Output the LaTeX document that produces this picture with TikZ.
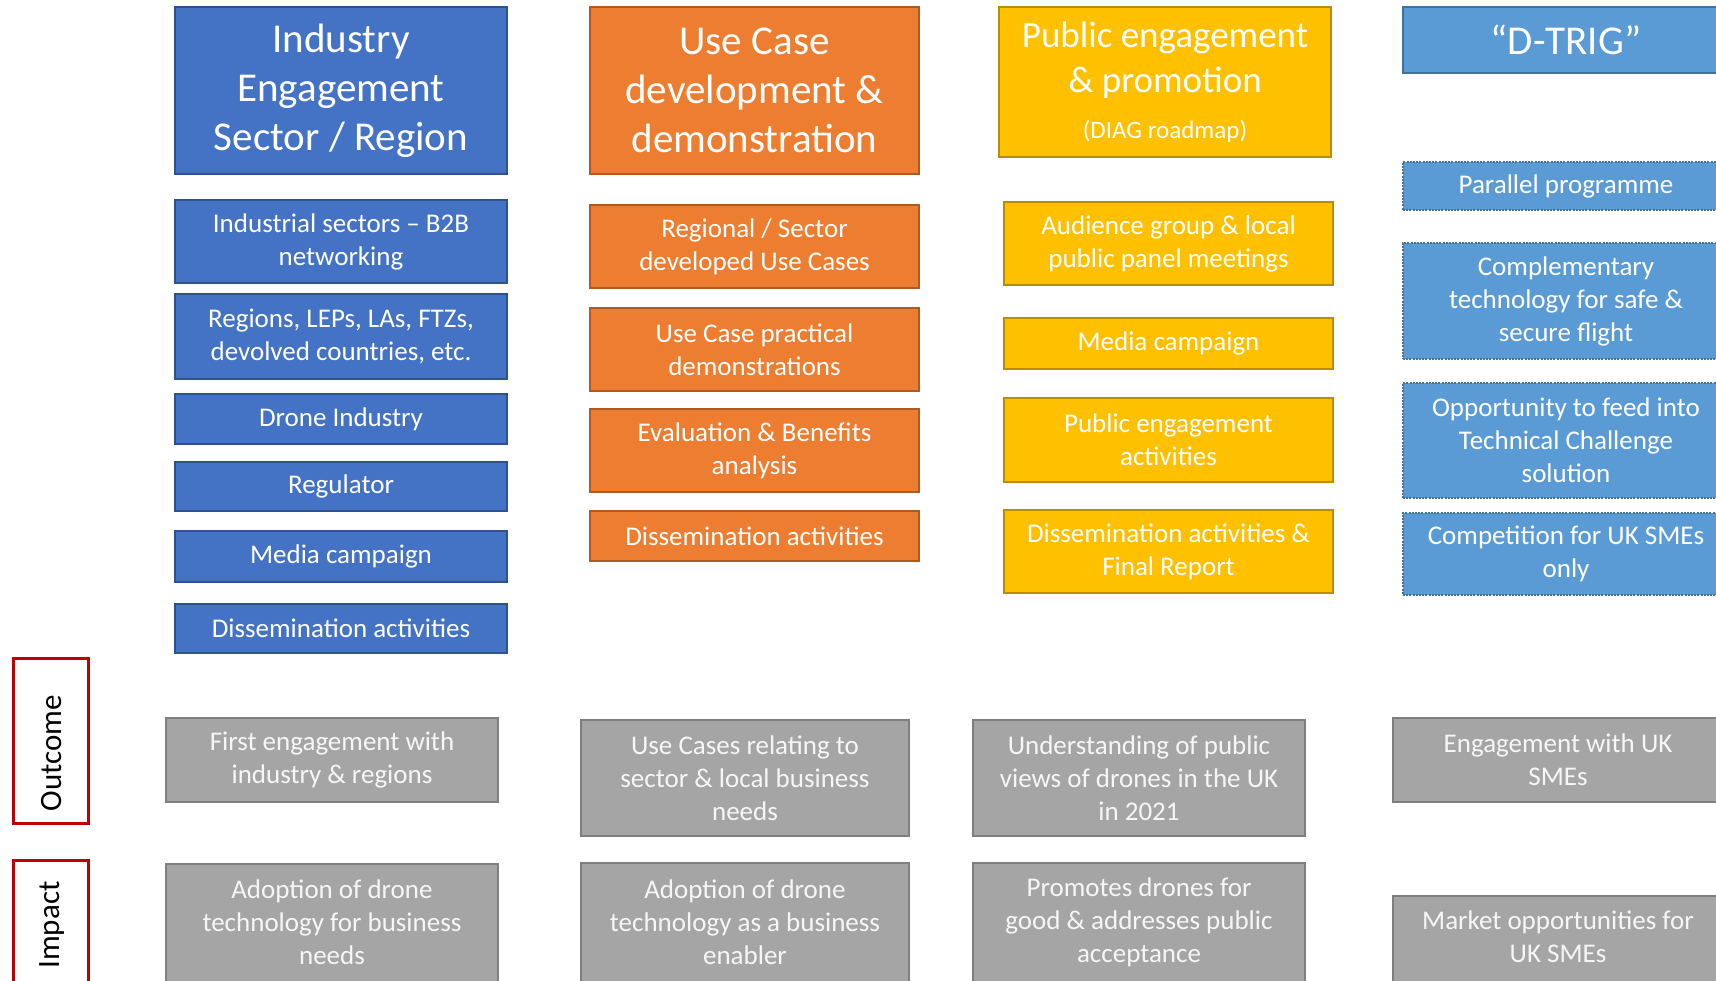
\documentclass[tikz,border=0pt]{standalone}
\usepackage{fontspec}
\setmainfont{Carlito}
\definecolor{cblue}{HTML}{4472C4}
\definecolor{cblueD}{HTML}{2F528F}
\definecolor{corange}{HTML}{ED7D31}
\definecolor{corangeD}{HTML}{AE5A21}
\definecolor{cgold}{HTML}{FFC000}
\definecolor{cgoldD}{HTML}{BC8C00}
\definecolor{clblue}{HTML}{5B9BD5}
\definecolor{clblueD}{HTML}{41719C}
\definecolor{cgray}{HTML}{A5A5A5}
\definecolor{cgrayD}{HTML}{7F7F7F}
\definecolor{cred}{HTML}{C00000}
\tikzset{
  box/.style={draw, line width=1.3pt, inner sep=0pt, align=center, text=white, font=\fontsize{27}{33}\selectfont},
  bluebox/.style={box, fill=cblue, draw=cblueD},
  orangebox/.style={box, fill=corange, draw=corangeD},
  goldbox/.style={box, fill=cgold, draw=cgoldD},
  lbluebox/.style={box, fill=clblue, draw=clblueD},
  lbluedash/.style={lbluebox, dash pattern=on 2pt off 1.2pt},
  graybox/.style={box, fill=cgray, draw=cgrayD, text=white!93!gray},
  graytext/.style={align=center, text=white!93!gray, font=\fontsize{27}{33}\selectfont, inner sep=0pt},
  titlefont/.style={font=\fontsize{41}{49}\selectfont},
  redbox/.style={draw=cred, line width=3pt, inner sep=0pt},
  sidelabel/.style={rotate=90, font=\fontsize{31}{36}\selectfont, text=black, inner sep=0pt}
}
% \bx{style}{name}{x1}{y1}{x2}{y2}{text}
\newcommand\bx[7]{%
  \pgfmathsetmacro\bxw{#5-#3}%
  \pgfmathsetmacro\bxh{#6-#4}%
  \pgfmathsetmacro\bxcx{(#3+#5)/2}%
  \pgfmathsetmacro\bxcy{(#4+#6)/2}%
  \node[#1, minimum width=\bxw pt, minimum height=\bxh pt] (#2) at (\bxcx,\bxcy) {#7};%
}
\begin{document}
\begin{tikzpicture}[x=1pt,y=-1pt]
\useasboundingbox (0,0) rectangle (1716,980);
\clip (0,0) rectangle (1716,980);

% Column 1
\bx{bluebox,titlefont}{t1}{175}{7}{507}{174}{Industry\\Engagement\\Sector / Region}
\bx{bluebox}{a1}{175}{200}{507}{283}{Industrial sectors -- B2B\\networking}
\bx{bluebox}{a2}{175}{294}{507}{379}{Regions, LEPs, LAs, FTZs,\\devolved countries, etc.}
\bx{bluebox}{a3}{175}{394}{507}{444}{Drone Industry}
\bx{bluebox}{a4}{175}{462}{507}{511}{Regulator}
\bx{bluebox}{a5}{175}{531}{507}{582}{Media campaign}
\bx{bluebox}{a6}{175}{604}{507}{653}{Dissemination activities}

% Column 2
\bx{orangebox,titlefont}{t2}{590}{7}{919}{174}{Use Case\\development \&\\demonstration}
\bx{orangebox}{b1}{590}{205}{919}{288}{Regional / Sector\\developed Use Cases}
\bx{orangebox}{b2}{590}{308}{919}{391}{Use Case practical\\demonstrations}
\bx{orangebox}{b3}{590}{409}{919}{492}{Evaluation \& Benefits\\analysis}
\bx{orangebox}{b4}{590}{511}{919}{561}{Dissemination activities}

% Column 3
\bx{goldbox,font=\fontsize{37}{45}\selectfont}{t3}{999}{7}{1331}{157}{Public engagement\\\& promotion\\[1pt]{\fontsize{25}{29}\selectfont (DIAG roadmap)}}
\bx{goldbox}{c1}{1004}{202}{1333}{285}{Audience group \& local\\public panel meetings}
\bx{goldbox}{c2}{1004}{318}{1333}{369}{Media campaign}
\bx{goldbox}{c3}{1004}{398}{1333}{482}{Public engagement\\activities}
\bx{goldbox}{c4}{1004}{510}{1333}{593}{Dissemination activities \&\\Final Report}

% Column 4
\bx{lbluebox,titlefont}{t4}{1403}{7}{1729}{73}{``D-TRIG''}
\bx{lbluedash}{d1}{1403}{162}{1729}{210}{Parallel programme}
\bx{lbluedash}{d2}{1403}{243}{1729}{359}{Complementary\\technology for safe \&\\secure flight}
\bx{lbluedash}{d3}{1403}{383}{1729}{498}{Opportunity to feed into\\Technical Challenge\\solution}
\bx{lbluedash}{d4}{1403}{513}{1729}{595}{Competition for UK SMEs\\only}

% Side labels
\bx{redbox}{outbox}{13}{658}{88}{823}{}
\node[sidelabel] (outlbl) at (52,753) {Outcome};
\bx{redbox}{impbox}{13}{860}{88}{995}{}
\node[sidelabel] (implbl) at (52,925) {Impact};

% Outcome row
\bx{graybox}{o1}{166}{718}{498}{802}{First engagement with\\industry \& regions}
\bx{graybox}{o2}{581}{720}{909}{836}{Use Cases relating to\\sector \& local business\\needs}
\bx{graybox}{o3}{973}{720}{1305}{836}{Understanding of public\\views of drones in the UK\\in 2021}
\bx{graybox}{o4}{1393}{718}{1723}{802}{Engagement with UK\\SMEs}

% Impact row
\bx{graybox}{i1}{166}{864}{498}{1000}{}
\node[graytext] (i1t) at (332,922) {Adoption of drone\\technology for business\\needs};
\bx{graybox}{i2}{581}{863}{909}{1000}{}
\node[graytext] (i2t) at (745,922) {Adoption of drone\\technology as a business\\enabler};
\bx{graybox}{i3}{973}{863}{1305}{1000}{}
\node[graytext] (i3t) at (1139,922) {Promotes drones for\\good \& addresses public\\acceptance};
\bx{graybox}{i4}{1393}{896}{1723}{1010}{}
\node[graytext] (i4t) at (1558,937) {Market opportunities for\\UK SMEs};
\end{tikzpicture}
\end{document}
